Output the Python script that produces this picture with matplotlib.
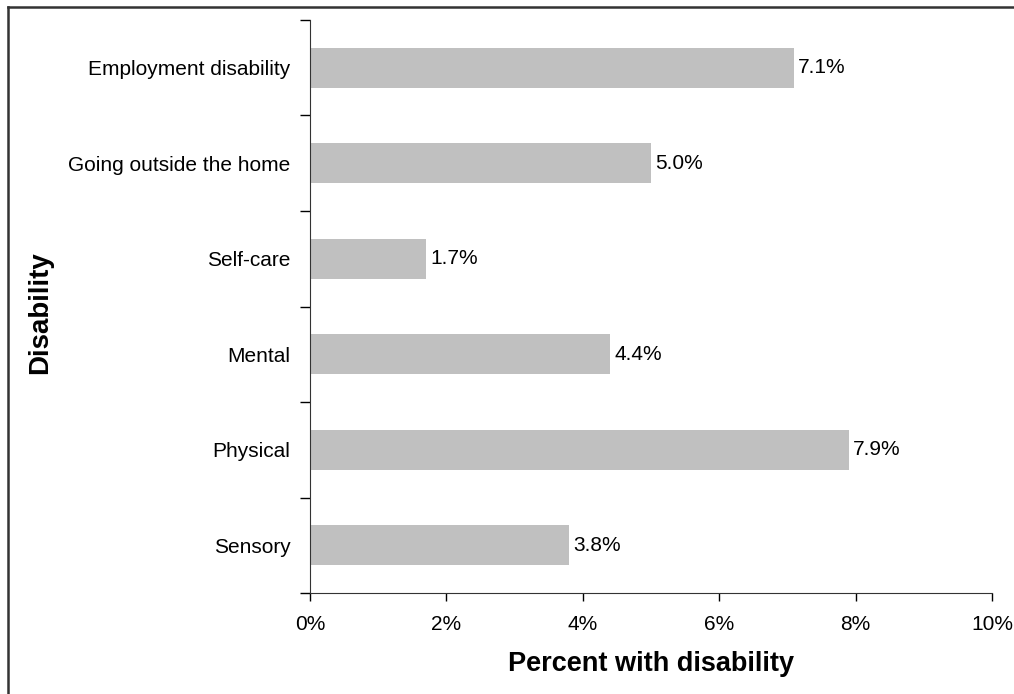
import matplotlib.pyplot as plt
from matplotlib.lines import Line2D

plt.rcParams['font.family'] = ['Liberation Sans', 'DejaVu Sans']

categories = ['Sensory', 'Physical', 'Mental', 'Self-care',
              'Going outside the home', 'Employment disability']
values = [3.8, 7.9, 4.4, 1.7, 5.0, 7.1]
xticks = [0, 2, 4, 6, 8, 10]

fig = plt.figure(figsize=(10.14, 6.94), dpi=100)
ax = fig.add_axes([0.3057, 0.1455, 0.6726, 0.8257])

pos = range(len(categories))
ax.barh(pos, values, height=0.42, color='#c0c0c0')
for y, v in zip(pos, values):
    ax.text(v + 0.06, y, f'{v:.1f}%', va='center', ha='left', fontsize=15)

ax.set_xlim(0, 10)
ax.set_ylim(-0.5, len(categories) - 0.5)
ax.set_xticks(xticks)
ax.set_xticklabels([f'{t}%' for t in xticks], fontsize=15)
ax.tick_params(axis='x', length=6, width=1, pad=10)

# category labels in the middle, ticks on the boundaries between bars
ax.set_yticks(list(pos))
ax.set_yticklabels(categories, fontsize=15)
ax.tick_params(axis='y', which='major', length=0, pad=14)
ax.set_yticks([p - 0.5 for p in range(len(categories) + 1)], minor=True)
ax.tick_params(axis='y', which='minor', length=7, width=1)

for s in ['top', 'right']:
    ax.spines[s].set_visible(False)
ax.spines['left'].set_color('#333333')
ax.spines['bottom'].set_color('#333333')

ax.set_xlabel('Percent with disability', fontsize=19.5, fontweight='bold', labelpad=12)
ax.set_ylabel('Disability', fontsize=20, fontweight='bold', va='center')
ax.yaxis.set_label_coords(-0.396, 0.49)

# chart frame
fig.add_artist(Line2D([8 / 1014, 8 / 1014], [0, 1 - 7 / 694], color='#333333', lw=1.8))
fig.add_artist(Line2D([8 / 1014, 1], [1 - 7 / 694, 1 - 7 / 694], color='#333333', lw=1.8))

fig.savefig('out.png', dpi=100)
